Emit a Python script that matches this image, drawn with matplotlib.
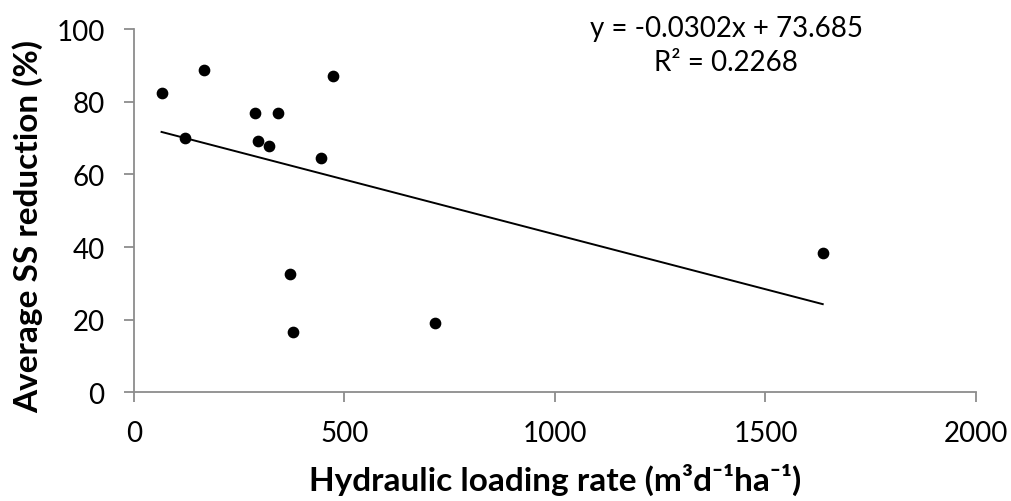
import matplotlib
matplotlib.use("Agg")
import matplotlib.pyplot as plt
import numpy as np

# hydraulic loading rate (m3/d/ha) vs average SS reduction (%)
hlr = [66, 121, 167, 288, 294, 321, 342, 372, 379, 444, 472, 716, 1636]
ss_red = [82.4, 69.9, 88.8, 77.0, 69.1, 67.7, 77.0, 32.6, 16.5, 64.6, 87.0, 19.0, 38.3]

slope = -0.0302
intercept = 73.685
r2 = 0.2268

plt.rcParams['font.family'] = ['Lato', 'DejaVu Sans']

fig = plt.figure(figsize=(10.11, 5.02), dpi=100)
ax = fig.add_axes([0.1323, 0.2165, 0.8331, 0.7235])

ax.scatter(hlr, ss_red, s=55, color='black', zorder=3)

# linear trendline over the data range
xs = np.array([min(hlr), max(hlr)])
ax.plot(xs, slope * xs + intercept, color='black', lw=1.4)

ax.set_xlim(0, 2000)
ax.set_ylim(0, 100)
ax.set_xticks([0, 500, 1000, 1500, 2000])
ax.set_yticks([0, 20, 40, 60, 80, 100])

for s in ['top', 'right']:
    ax.spines[s].set_visible(False)
for s in ['left', 'bottom']:
    ax.spines[s].set_color('#8c8c8c')
    ax.spines[s].set_linewidth(1.3)
ax.tick_params(direction='out', length=7, width=1.3, color='#8c8c8c', labelsize=20)
ax.tick_params(axis='x', pad=13)
ax.tick_params(axis='y', pad=14)

ax.set_xlabel('Hydraulic loading rate (m³d⁻¹ha⁻¹)', fontsize=24, fontweight='bold')
ax.set_ylabel('Average SS reduction (%)', fontsize=24, fontweight='bold')
ax.xaxis.set_label_coords(0.5, -0.195)
ax.yaxis.set_label_coords(-0.108, 0.46)

ax.text(1407, 95.6, 'y = %.4fx + %.3f\nR² = %.4f' % (slope, intercept, r2),
        ha='center', va='center', fontsize=20, linespacing=1.35)

fig.savefig('out.png', dpi=100)
